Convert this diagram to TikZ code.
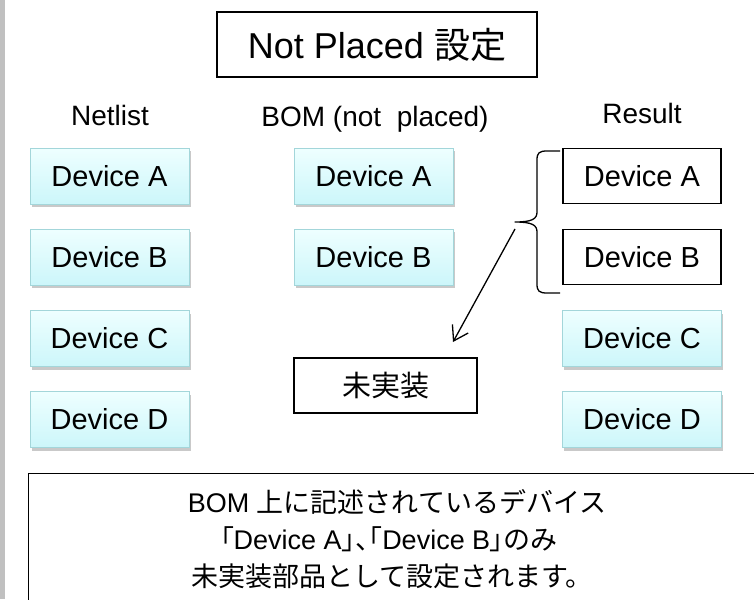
\documentclass[tikz,border=0pt]{standalone}
\usepackage{fontspec}
\setmainfont{Liberation Sans}
\newfontfamily\jp{Noto Sans CJK JP}
\newfontfamily\jpp[RawFeature=+palt]{Noto Sans CJK JP}
\usetikzlibrary{shadows,arrows.meta}
\definecolor{devtop}{HTML}{EEFFFF}
\definecolor{devbot}{HTML}{CCF6FA}
\definecolor{devline}{HTML}{A3D6DA}
\definecolor{barcol}{HTML}{C0C0C0}
\begin{document}
\begin{tikzpicture}[x=1pt,y=-1pt,
  dev/.style={draw=devline, line width=0.8pt, top color=devtop, bottom color=devbot,
    minimum width=159pt, minimum height=56pt, inner sep=0pt,
    font=\fontsize{29}{34}\selectfont,
    drop shadow={shadow xshift=1.5pt, shadow yshift=-3pt, opacity=0.35, fill=black!60}},
  res/.style={draw=black, line width=1.4pt, fill=white,
    minimum width=158pt, minimum height=55pt, inner sep=0pt,
    font=\fontsize{29}{34}\selectfont},
  hdr/.style={anchor=base, font=\fontsize{28}{32}\selectfont},
  plainbox/.style={draw=black, line width=1.4pt, inner sep=0pt},
  notetext/.style={anchor=base, font=\fontsize{27}{32}\selectfont},
  conn/.style={line width=1.3pt}
]
\useasboundingbox (0,0) rectangle (754,599);
\fill[white] (0,0) rectangle (754,599);
\begin{scope}
\clip (0,0) rectangle (754,599);
\fill[barcol] (0,0) rectangle (5,599);

% title
\node[plainbox, minimum width=320pt, minimum height=65pt,
  font=\fontsize{36}{40}\selectfont] (title) at (377,44.5) {Not Placed {\jp 設定}};

% column headers
\node[hdr] (lnet) at (110,125) {Netlist};
\node[hdr] (lbom) at (375,126) {BOM (not\ \ placed)};
\node[hdr] (lres) at (642,124) {Result};

% netlist column
\node[dev] (na) at (109.5,176) {Device A};
\node[dev] (nb) at (109.5,257) {Device B};
\node[dev] (nc) at (109.5,338.5) {Device C};
\node[dev] (nd) at (109.5,419.5) {Device D};

% BOM column
\node[dev] (ba) at (373.5,176) {Device A};
\node[dev] (bb) at (373.5,257) {Device B};

% result column
\node[res] (ra) at (642,176) {Device A};
\node[res] (rb) at (642,257) {Device B};
\node[dev] (rc) at (642,338.5) {Device C};
\node[dev] (rd) at (642,419.5) {Device D};

% not placed box
\node[plainbox, minimum width=183pt, minimum height=55pt,
  font=\jp\fontsize{29}{34}\selectfont] (nj) at (385.5,385.5) {未実装};

% brace
\coordinate (brtop) at (560,151);
\coordinate (brbot) at (560,293);
\coordinate (brtip) at (515,222);
\draw[conn, line join=round] (brtop) -- (547,151)
  .. controls (539,151) and (537,153) .. (537,160) -- (537,212)
  .. controls (537,219) and (532,222) .. (brtip)
  .. controls (532,222) and (537,225) .. (537,232) -- (537,284)
  .. controls (537,291) and (539,293) .. (547,293) -- (brbot);

% arrow
\coordinate (bt) at (515,229);
\coordinate (ae) at (453,342);
\draw[conn, -{Straight Barb[length=14pt,width=18pt]}] (bt) -- (ae);

% bottom note
\node[plainbox, anchor=north west, minimum width=760pt, minimum height=160pt] (note) at (28,473) {};
\node[notetext] (t1) at (397,512) {BOM {\jp 上に記述されているデバイス}};
\node[notetext] (t2) at (389,549) {{\jpp 「}Device A{\jpp 」、「}Device B{\jpp 」}{\jp のみ}};
\node[notetext] (t3) at (392,586) {{\jp 未実装部品として設定されます。}};
\end{scope}
\end{tikzpicture}
\end{document}
